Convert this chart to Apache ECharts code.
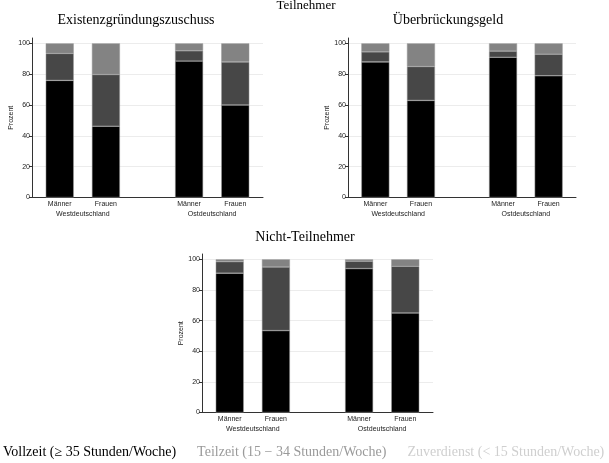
<!DOCTYPE html>
<html>
<head>
<meta charset="utf-8">
<script src="https://cdn.jsdelivr.net/npm/echarts@6/dist/echarts.min.js"></script>
<style>
  html, body { margin: 0; padding: 0; background: #fff; }
  #chart { width: 609px; height: 463px; }
</style>
</head>
<body>
<div id="chart"></div>
<script>
// Erwerbsumfang nach Geschlecht und Region, drei Panels (gestapelte Balken in Prozent).
var sexes = ['Männer', 'Frauen'];
var regions = ['Westdeutschland', 'Ostdeutschland'];
var panelTitles = ['Existenzgründungszuschuss', 'Überbrückungsgeld', 'Nicht-Teilnehmer'];
var groupTitle = 'Teilnehmer';
var seriesNames = [
  'Vollzeit (≥ 35 Stunden/Woche)',
  'Teilzeit (15 − 34 Stunden/Woche)',
  'Zuverdienst (< 15 Stunden/Woche)'
];
var yTicks = [0, 20, 40, 60, 80, 100];

// order: West Männer, West Frauen, Ost Männer, Ost Frauen
var egzVollzeit = [76, 46.3, 88.5, 60];
var egzTeilzeit = [17.5, 33.5, 6.7, 28];
var egzZuverdienst = [6.5, 20.2, 4.8, 12];

var ubgVollzeit = [88, 63, 91, 79];
var ubgTeilzeit = [6.5, 22, 4, 14];
var ubgZuverdienst = [5.5, 15, 5, 7];

var ntVollzeit = [91, 53.5, 94, 65];
var ntTeilzeit = [7.5, 41.5, 4.8, 30.5];
var ntZuverdienst = [1.5, 5, 1.2, 4.5];

var panelData = [
  [egzVollzeit, egzTeilzeit, egzZuverdienst],
  [ubgVollzeit, ubgTeilzeit, ubgZuverdienst],
  [ntVollzeit, ntTeilzeit, ntZuverdienst]
];

// layout
var grids = [
  { left: 32, top: 38, width: 231, height: 159.5 },
  { left: 348, top: 38, width: 228, height: 159.5 },
  { left: 202, top: 254, width: 231, height: 158.5 }
];
var titlePos = [[136, 20], [448, 20], [305, 237]];
var barColors = ['#000000', '#474747', '#838383'];
var legendColors = ['#000000', '#9a9a9a', '#cfcfcf'];
var serif = '"Liberation Serif", "DejaVu Serif", serif';
var sans = '"Liberation Sans", Arial, sans-serif';

// x slot of bar i: sex offset within a region, regions separated by a gap
function xPos(i) { return 0.6 + (i % 2) + Math.floor(i / 2) * 2.8; }
var barX = [0, 1, 2, 3].map(xPos);
var regionX = [(barX[0] + barX[1]) / 2, (barX[2] + barX[3]) / 2];

var option = {
  animation: false,
  backgroundColor: '#fff',
  textStyle: { fontFamily: sans },
  title: [{
    text: groupTitle, left: 306, top: 6, padding: 0,
    textAlign: 'center', textVerticalAlign: 'middle',
    textStyle: { fontFamily: serif, fontWeight: 'normal', fontSize: 13, color: '#000' }
  }].concat(panelTitles.map(function (t, p) {
    return {
      text: t, left: titlePos[p][0], top: titlePos[p][1], padding: 0,
      textAlign: 'center', textVerticalAlign: 'middle',
      textStyle: { fontFamily: serif, fontWeight: 'normal', fontSize: 14, color: '#000' }
    };
  })),
  legend: {
    left: -3, top: 445, padding: 0,
    itemWidth: 0, itemHeight: 0, itemGap: 15,
    selectedMode: false,
    data: seriesNames.map(function (n, k) {
      return { name: n, icon: 'rect', textStyle: { color: legendColors[k] } };
    }),
    textStyle: { fontFamily: serif, fontSize: 14 }
  },
  grid: grids.map(function (g) {
    return { left: g.left, top: g.top, width: g.width, height: g.height, containLabel: false };
  }),
  xAxis: [],
  yAxis: [],
  series: []
};

grids.forEach(function (g, p) {
  // sex labels directly under the bars
  option.xAxis.push({
    type: 'value', gridIndex: p, min: 0, max: 5, position: 'bottom',
    axisLine: { show: true, lineStyle: { color: '#333', width: 1 } },
    axisTick: { show: false },
    splitLine: { show: false },
    axisLabel: {
      customValues: barX, margin: 3, fontSize: 7, color: '#222', fontFamily: sans,
      formatter: function (v) {
        var i = barX.indexOf(v);
        return i < 0 ? '' : sexes[i % 2];
      }
    }
  });
  // region labels below
  option.xAxis.push({
    type: 'value', gridIndex: p, min: 0, max: 5, position: 'bottom', offset: 10,
    axisLine: { show: false }, axisTick: { show: false }, splitLine: { show: false },
    axisLabel: {
      customValues: regionX, margin: 3, fontSize: 7, color: '#222', fontFamily: sans,
      formatter: function (v) {
        var i = regionX.indexOf(v);
        return i < 0 ? '' : regions[i];
      }
    }
  });
  option.yAxis.push({
    type: 'value', gridIndex: p, min: 0, max: 103.5,
    name: 'Prozent', nameLocation: 'middle', nameGap: 16, nameRotate: 90,
    nameTextStyle: { fontSize: 7, color: '#222', fontFamily: sans },
    axisLine: { show: true, lineStyle: { color: '#333', width: 1 } },
    axisTick: { show: true, customValues: yTicks, length: 3, lineStyle: { color: '#333' } },
    axisLabel: { customValues: yTicks, margin: 2, fontSize: 7, color: '#222', fontFamily: sans },
    splitLine: { show: true, lineStyle: { color: '#ececec', width: 1 } }
  });
  panelData[p].forEach(function (vals, k) {
    option.series.push({
      type: 'bar', name: seriesNames[k], stack: 'p' + p,
      xAxisIndex: p * 2, yAxisIndex: p,
      barWidth: 28,
      // value first so that it is the stacked dimension
      encode: { x: 1, y: 0 },
      itemStyle: { color: barColors[k], borderColor: '#9a9a9a', borderWidth: 0.5 },
      data: vals.map(function (v, i) { return [v, barX[i]]; })
    });
  });
});

var chart = echarts.init(document.getElementById('chart'));
chart.setOption(option);
window.addEventListener('resize', function () { chart.resize(); });
</script>
</body>
</html>
